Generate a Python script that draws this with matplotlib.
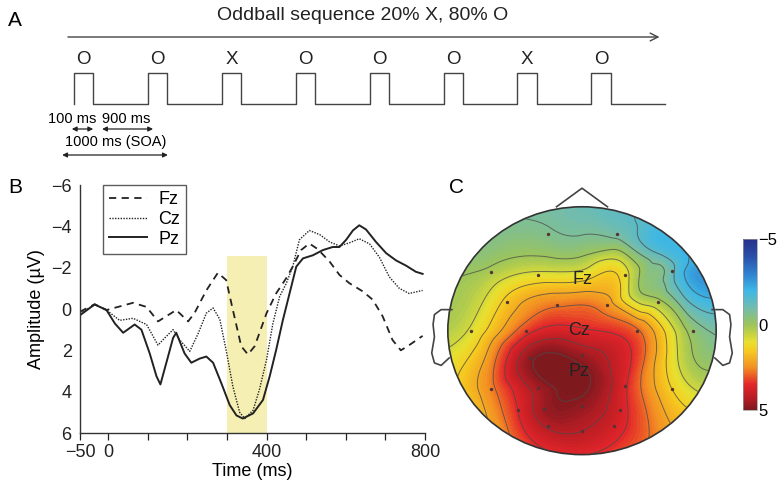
import numpy as np
import matplotlib
matplotlib.use("Agg")
import matplotlib.pyplot as plt
import matplotlib.tri as mtri
from matplotlib.colors import LinearSegmentedColormap, Normalize
from matplotlib.cm import ScalarMappable
from matplotlib.patches import Circle

plt.rcParams["font.family"] = ["Liberation Sans", "DejaVu Sans"]

# ---- panel A: oddball sequence ----
stimuli = ["O", "O", "X", "O", "O", "O", "X", "O"]
seq_title = "Oddball sequence 20% X, 80% O"
timing_labels = ["100 ms", "900 ms", "1000 ms (SOA)"]

# ---- panel B: ERP waveforms (time in ms, amplitude in uV) ----
fz_t = [-71, -34, -4, 63, 97, 126, 172, 202, 218, 248, 277, 298, 315, 336, 353, 370,
        400, 424, 450, 466, 487, 508, 529, 559, 584, 609, 643, 668, 693, 718, 739, 760, 794]
fz_v = [0.13, -0.23, 0.05, -0.3, -0.1, 0.6, 0.05, 0.6, 0.2, -0.9, -1.75, -1.4, 0.05, 1.8,
        2.2, 1.8, 0.2, -0.75, -1.5, -2.05, -2.85, -3.17, -2.9, -2.3, -1.65, -1.25, -0.85,
        -0.45, 0.35, 1.5, 2.0, 1.75, 1.3]

cz_t = [-71, -34, -4, 29, 63, 97, 126, 143, 164, 181, 206, 227, 248, 265, 282, 298, 315,
        332, 345, 366, 382, 400, 416, 433, 450, 466, 483, 508, 534, 559, 584, 609, 634,
        660, 685, 710, 735, 760, 794]
cz_v = [0.2, -0.2, 0.05, 0.55, 0.45, 0.75, 1.75, 1.4, 1.0, 1.5, 2.05, 1.2, 0.2, -0.05,
        0.5, 2.0, 3.75, 5.0, 5.3, 4.9, 3.9, 2.45, 0.7, -0.6, -1.25, -2.05, -3.35, -3.8,
        -3.6, -3.25, -3.05, -3.2, -3.4, -3.15, -2.5, -1.55, -1.0, -0.75, -0.9]

pz_t = [-71, -34, -4, 17, 38, 67, 84, 105, 122, 132, 147, 164, 172, 193, 210, 231, 248,
        265, 286, 307, 324, 340, 366, 391, 408, 424, 441, 458, 475, 492, 517, 542, 567,
        584, 601, 618, 634, 651, 676, 702, 727, 752, 777, 794]
pz_v = [0.3, -0.22, 0.05, 0.7, 1.15, 0.75, 1.0, 2.15, 3.25, 3.65, 2.6, 1.4, 1.15, 2.15,
        2.6, 2.4, 2.3, 2.6, 3.6, 4.65, 5.15, 5.3, 5.05, 4.4, 3.25, 2.0, 0.55, -0.75, -2.05,
        -2.45, -2.6, -2.85, -3.0, -3.0, -3.35, -3.8, -4.05, -3.85, -3.25, -2.7, -2.35,
        -2.1, -1.8, -1.7]

window_ms = [300, 400]
window_top = -2.55

# ---- panel C: scalp map (head coords, value in uV) ----
elec_x = [-0.25, 0.26, -0.68, -0.33, 0.32, 0.67, -0.56, -0.19, 0.19, 0.57, -0.83, -0.42,
          0.41, 0.83, -0.39, 0.0, -0.68, -0.33, 0.32, 0.67, -0.48, -0.28, 0.0, 0.28,
          -0.25, 0.0, 0.24]
elec_y = [0.78, 0.78, 0.47, 0.45, 0.45, 0.48, 0.23, 0.21, 0.21, 0.23, 0.0, 0.0, 0.0, 0.0,
          -0.22, -0.2, -0.47, -0.46, -0.45, -0.47, -0.64, -0.63, -0.61, -0.64, -0.77,
          -0.81, -0.77]
elec_v = [-0.6, -0.9, 0.2, 0.9, 1.0, -1.2, 1.6, 2.7, 2.4, 0.2, 0.8, 3.2, 2.9, -0.3, 4.7,
          4.6, 2.6, 4.5, 3.6, 1.4, 3.5, 4.6, 4.7, 3.8, 4.3, 4.2, 3.8]

extra_x = [0.0, 0.0, 0.0, 0.0, -0.1, 0.55, 0.75, 0.45, 0.7]
extra_y = [0.6, 0.4, 0.0, -0.33, -0.45, 0.62, 0.45, 0.3, -0.2]
extra_v = [0.0, 1.4, 3.6, 5.0, 5.1, -1.3, -2.0, 0.0, 0.8]

rim_angle = [0, 30, 60, 90, 120, 150, 180, 210, 240, 270, 300, 330]
rim_v = [-0.9, -2.3, -1.5, -1.1, -0.7, -0.2, 0.3, 1.3, 2.6, 3.2, 2.6, 0.8]

site_names = ["Fz", "Cz", "Pz"]
site_x = [0.0, -0.02, -0.02]
site_y = [0.415, 0.0, -0.33]

cbar_ticks = [-5, 0, 5]

fig = plt.figure(figsize=(7.8, 4.9), dpi=100)
W, H = 780.0, 490.0


def px_rect(x0, y0, x1, y1):
    return [x0 / W, 1 - y1 / H, (x1 - x0) / W, (y1 - y0) / H]


# ================= A =================
ax_a = fig.add_axes(px_rect(0, 0, 780, 170))
ax_a.set_xlim(-1.0014, 9.553)
ax_a.set_ylim(170, 0)
ax_a.axis("off")

lc = "#444444"
pw = 0.26  # schematic pulse width (trial units)
base, top = 104, 73
xs, ys = [], []
for i, s in enumerate(stimuli):
    xs += [i, i, i + pw, i + pw]
    ys += [base, top, top, base]
    ax_a.text(i + pw / 2, 60, s, ha="center", va="center", fontsize=13.5, color="#222222")
xs.append(len(stimuli))
ys.append(base)
ax_a.plot(xs, ys, color=lc, lw=1.0)

ax_a.annotate("", xy=(7.96, 37), xytext=(-0.12, 37),
              arrowprops=dict(arrowstyle="->", color=lc, lw=1.0, mutation_scale=14))
ax_a.text(3.9, 15, seq_title, ha="center", va="center", fontsize=14, color="#222222")
ax_a.text(-0.8, 20, "A", ha="center", va="center", fontsize=15)

dbl = dict(arrowstyle="<|-|>", color="#222222", lw=0.9, mutation_scale=7,
           shrinkA=0, shrinkB=0)
ax_a.text(-0.03, 119, timing_labels[0], ha="center", va="center", fontsize=10.5)
ax_a.text(0.71, 119, timing_labels[1], ha="center", va="center", fontsize=10.5)
ax_a.annotate("", xy=(pw, 129), xytext=(-0.03, 129), arrowprops=dbl)
ax_a.annotate("", xy=(1.07, 129), xytext=(0.38, 129), arrowprops=dbl)
ax_a.text(0.56, 142, timing_labels[2], ha="center", va="center", fontsize=10.5)
ax_a.annotate("", xy=(1.27, 155), xytext=(-0.16, 155), arrowprops=dbl)

# ================= B =================
ax_b = fig.add_axes(px_rect(80, 185, 425, 433))
ax_b.fill_betweenx([window_top, 6], window_ms[0], window_ms[1], color="#f6efb4", lw=0)
ax_b.plot(fz_t, fz_v, color="#222222", lw=1.3, ls=(0, (4, 3)), label="Fz")
ax_b.plot(cz_t, cz_v, color="#222222", lw=1.0, ls=(0, (1, 1)), label="Cz")
ax_b.plot(pz_t, pz_v, color="#222222", lw=1.4, ls="-", label="Pz")
ax_b.set_xlim(-71, 800)
ax_b.set_ylim(6, -6)
ax_b.set_xticks([-71, 0, 100, 200, 300, 400, 500, 600, 700, 800])
ax_b.set_xticklabels(["\u221250", "0", "", "", "", "400", "", "", "", "800"])
ax_b.set_yticks([-6, -4, -2, 0, 2, 4, 6])
ax_b.tick_params(axis="x", direction="out", length=5, width=0.9, labelsize=13, pad=3,
                 colors="#222222")
ax_b.tick_params(axis="y", length=0, labelsize=13, pad=6, colors="#222222")
for side in ["top", "right"]:
    ax_b.spines[side].set_visible(False)
for side in ["left", "bottom"]:
    ax_b.spines[side].set_linewidth(1.0)
    ax_b.spines[side].set_color("#333333")
ax_b.set_xlabel("Time (ms)", fontsize=13, labelpad=1)
ax_b.set_ylabel("Amplitude (\u00b5V)", fontsize=13, labelpad=4)
leg = ax_b.legend(loc="upper left", bbox_to_anchor=(0.067, 1.0), borderaxespad=0,
                  fontsize=13, frameon=True, fancybox=False, handlelength=2.1,
                  labelspacing=0.15, borderpad=0.35, handletextpad=0.6)
leg.get_frame().set_edgecolor("#333333")
leg.get_frame().set_linewidth(1.0)
fig.text(15 / W, 1 - 187 / H, "B", ha="center", va="center", fontsize=15)

# ================= C =================
topo_cmap = LinearSegmentedColormap.from_list("topo", [
    (0.00, "#28318a"), (0.10, "#2a4fa8"), (0.20, "#2f7fcf"), (0.30, "#3db7e6"),
    (0.40, "#6fbcb0"), (0.50, "#9cc45a"), (0.60, "#e8e030"), (0.65, "#f5cc20"),
    (0.75, "#f39222"), (0.85, "#e3262a"), (0.93, "#b81c24"), (1.00, "#7e1a1e")])
norm = Normalize(-5, 5)

ax_c = fig.add_axes(px_rect(421, 182, 743, 467))
ax_c.set_xlim(-1.2, 1.2)
ax_c.set_ylim(-1.1, 1.2)
ax_c.axis("off")

rim_r = 1.08
px_all = elec_x + extra_x + [rim_r * np.cos(np.radians(a)) for a in rim_angle]
py_all = elec_y + extra_y + [rim_r * np.sin(np.radians(a)) for a in rim_angle]
pv_all = np.array(elec_v + extra_v + rim_v, dtype=float)
tri = mtri.Triangulation(px_all, py_all)
interp = mtri.CubicTriInterpolator(tri, pv_all, kind="min_E")
refiner = mtri.UniformTriRefiner(tri)
tri_f, v_f = refiner.refine_field(pv_all, triinterpolator=interp, subdiv=4)

head = Circle((0, 0), 1.0, transform=ax_c.transData, facecolor="none")
ax_c.add_patch(head)
cf = ax_c.tricontourf(tri_f, v_f, levels=np.linspace(-5, 5, 101), cmap=topo_cmap,
                      norm=norm, extend="both")
cf.set_clip_path(head)
cl = ax_c.tricontour(tri_f, v_f, levels=np.arange(-3.5, 5.2, 0.7), colors="#4a4a4a",
                     linewidths=0.7, alpha=0.75, linestyles="solid")
cl.set_clip_path(head)
ax_c.add_patch(Circle((0, 0), 1.0, facecolor="none", edgecolor="#333333", lw=1.2))
ax_c.scatter(elec_x, elec_y, s=2, color="#553333", zorder=3)

ax_c.plot([-0.19, 0.0, 0.19], [1.0, 1.15, 1.0], color="#444444", lw=1.2)
ear_x = [0.97, 1.05, 1.1, 1.11, 1.1, 1.12, 1.1, 1.05, 0.99]
ear_y = [0.17, 0.17, 0.13, 0.05, -0.05, -0.18, -0.26, -0.28, -0.22]
for sgn in (-1, 1):
    ax_c.plot([sgn * e for e in ear_x], ear_y, color="#444444", lw=1.2)

for name, sx, sy in zip(site_names, site_x, site_y):
    ax_c.text(sx, sy, name, ha="center", va="center", fontsize=13, color="#222222")
fig.text(457 / W, 1 - 187 / H, "C", ha="center", va="center", fontsize=15)

cax = fig.add_axes(px_rect(743, 239, 757, 410))
cb = fig.colorbar(ScalarMappable(norm=norm, cmap=topo_cmap), cax=cax, ticks=cbar_ticks)
cax.invert_yaxis()
cb.outline.set_linewidth(0.5)
cb.outline.set_edgecolor("#999999")
cax.tick_params(length=0, labelsize=12, pad=1)

fig.savefig("out.png", dpi=100)
